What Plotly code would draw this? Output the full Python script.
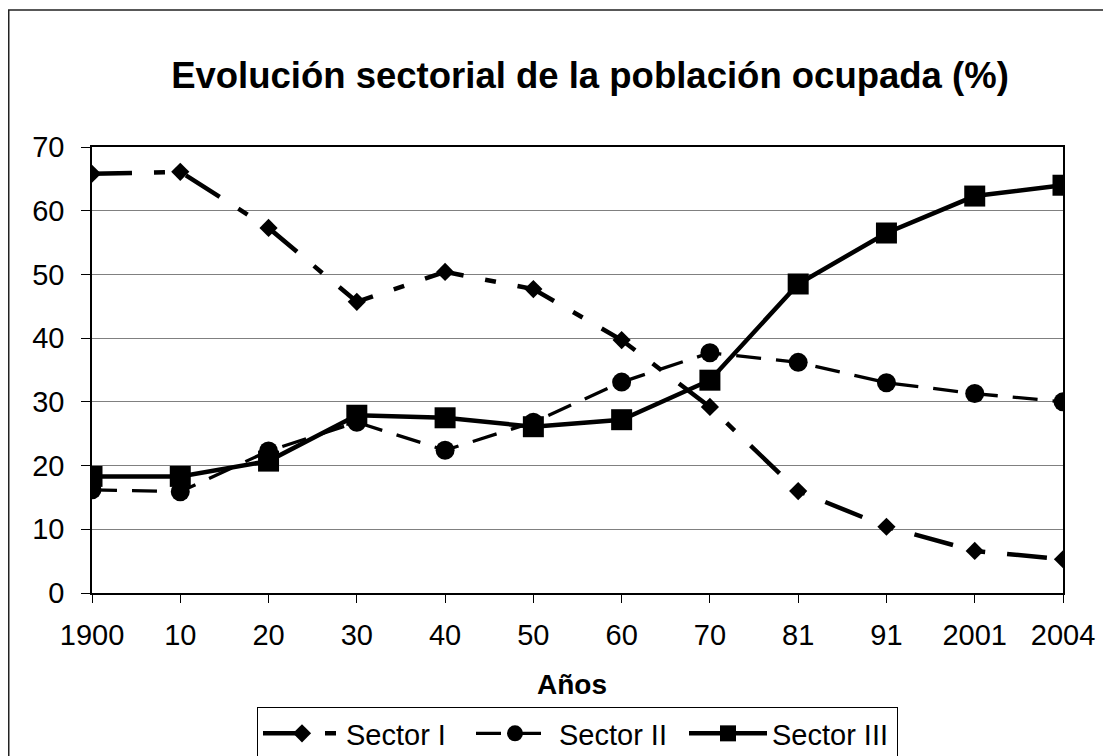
import plotly.graph_objects as go

categories = ["1900", "10", "20", "30", "40", "50", "60", "70", "81", "91", "2001", "2004"]
sector_i = [65.8, 66.1, 57.3, 45.7, 50.4, 47.7, 39.7, 29.2, 16.0, 10.4, 6.6, 5.3]
sector_ii = [16.2, 15.9, 22.3, 26.8, 22.4, 26.8, 33.1, 37.7, 36.2, 33.0, 31.3, 30.0]
sector_iii = [18.3, 18.3, 20.7, 27.9, 27.5, 26.1, 27.2, 33.4, 48.5, 56.5, 62.3, 64.0]

FONT = "Liberation Sans, Arial, sans-serif"
idx = list(range(len(categories)))

fig = go.Figure()
fig.add_trace(go.Scatter(
    x=idx, y=sector_i, name="Sector I", mode="lines+markers",
    line=dict(color="black", width=4.5, dash="40px,22px,11px,22px"),
    marker=dict(symbol="diamond", size=14, color="black"),
))
fig.add_trace(go.Scatter(
    x=idx, y=sector_ii, name="Sector II", mode="lines+markers",
    line=dict(color="black", width=3.3, dash="25px,15px"),
    marker=dict(symbol="circle", size=19, color="black"),
))
fig.add_trace(go.Scatter(
    x=idx, y=sector_iii, name="Sector III", mode="lines+markers",
    line=dict(color="black", width=4.5),
    marker=dict(symbol="square", size=21, color="black"),
))

# page body adds an 8px offset; figure coordinates are reference coords minus 8
OFF = 8
W, H = 1111 - OFF, 756 - OFF
L, R, T, B = 92 - OFF, 1063 - OFF, 147 - OFF, 593 - OFF
pw, ph = R - L, B - T

def px_x(x):
    return (x - OFF - L) / pw

def px_y(y):
    return (B - (y - OFF)) / ph

fig.update_layout(
    width=W, height=H,
    margin=dict(l=L, r=W - R, t=T, b=H - B, pad=0, autoexpand=False),
    paper_bgcolor="white", plot_bgcolor="white",
    font=dict(family=FONT, color="black", size=28),
    title=dict(
        text="<b>Evolución sectorial de la población ocupada (%)</b>",
        x=(590 - OFF) / W, xanchor="center", xref="container",
        y=1 - (75 - OFF) / H, yanchor="middle", yref="container",
        font=dict(size=36.5, family=FONT, color="black"),
    ),
    xaxis=dict(
        range=[0, 11], tickmode="array", tickvals=idx, ticktext=categories,
        showgrid=False, showline=True, linecolor="black", linewidth=1.5,
        mirror=True, ticks="outside", ticklen=8, tickcolor="black", tickwidth=1,
        tickfont=dict(size=29), zeroline=False, ticklabelstandoff=7,
    ),
    yaxis=dict(
        range=[0, 70], dtick=10, showgrid=True, gridcolor="#808080", gridwidth=1,
        showline=True, linecolor="black", linewidth=1.5, mirror=True,
        ticks="outside", ticklen=9, tickcolor="black", tickwidth=1,
        tickfont=dict(size=29), zeroline=False, ticklabelstandoff=11,
    ),
    legend=dict(
        orientation="h", x=0.5, xanchor="center", y=px_y(707), yanchor="top",
        bordercolor="black", borderwidth=1, bgcolor="white",
        font=dict(size=29, family=FONT), itemwidth=78,
        entrywidth=120, entrywidthmode="pixels",
    ),
    showlegend=True,
)

fig.add_annotation(
    text="<b>Años</b>", xref="paper", yref="paper",
    x=px_x(572), y=px_y(684), xanchor="center", yanchor="middle",
    showarrow=False, font=dict(size=28, family=FONT, color="black"),
)

fig.add_shape(
    type="rect", xref="paper", yref="paper",
    x0=px_x(8.75), x1=px_x(1130), y0=px_y(780), y1=px_y(10),
    line=dict(color="#222222", width=1.5), fillcolor="rgba(0,0,0,0)", layer="below",
)

fig.write_html("out.html")
